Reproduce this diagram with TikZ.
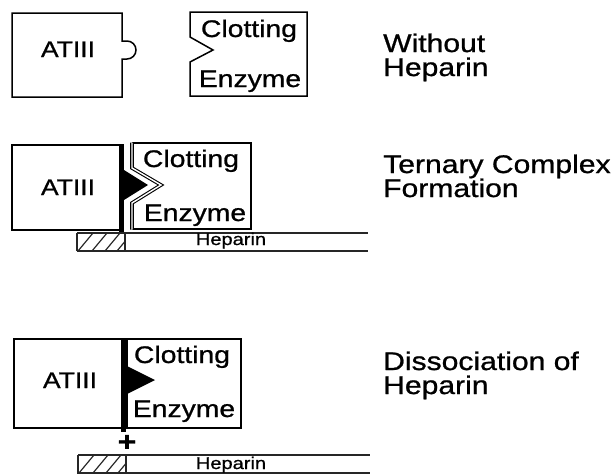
\documentclass[tikz,border=0pt]{standalone}
\usepackage{fontspec}
\setmainfont{Liberation Sans}[FakeStretch=1.18, FakeBold=0.9]

\begin{document}
\begin{tikzpicture}[x=1pt, y=1pt,
  outline/.style={line width=1.5pt},
  seam/.style={line width=1.1pt, double, double distance=1.4pt},
  bar/.style={line width=5pt},
  stripline/.style={line width=1.2pt, black!85},
  atname/.style={inner sep=0pt, anchor=base, font=\fontsize{22.5}{22.5}\selectfont},
  enzname/.style={inner sep=0pt, anchor=base, font=\fontsize{24}{24}\selectfont},
  hepname/.style={inner sep=0pt, anchor=base, font=\fontsize{17}{17}\selectfont},
  caption/.style={inner sep=0pt, anchor=base west, align=left, font=\fontsize{25.5}{24}\selectfont}]
\useasboundingbox (0,0) rectangle (616,-474);

\draw[outline] (12,-13) -- (122,-13) -- (122,-41) -- (127,-41) arc[start angle=90, end angle=-90, radius=9] -- (122,-59) -- (122,-97) -- (12,-97) -- cycle;
\draw[outline] (190,-12) -- (307,-12) -- (307,-96) -- (190,-96) -- (190,-62) -- (213,-50) -- (190,-37) -- cycle;
\node[atname] (at1) at (68,-57) {ATIII};
\node[enzname] (clot1) at (249,-37) {Clotting};
\node[enzname] (enz1) at (250,-87) {Enzyme};
\node[caption] (cap1) at (383,-76) {Without\\Heparin};

\draw[outline] (120,-145) -- (12,-145) -- (12,-230) -- (120,-230);
\draw[bar] (121.5,-144) -- (121.5,-232);
\fill (124,-170) -- (148,-185) -- (124,-200) -- cycle;
\draw[outline] (132,-143) -- (251,-143) -- (251,-229) -- (132,-229);
\draw[seam] (132,-142.5) -- (132,-168) -- (161,-185) -- (132,-203) -- (132,-229.5);
\node[atname] (at2) at (68,-195) {ATIII};
\node[enzname] (clot2) at (191,-167) {Clotting};
\node[enzname] (enz2) at (195,-221) {Enzyme};
\node[caption] (cap2) at (383,-197) {Ternary Complex\\Formation};

\draw[stripline] (77,-233) -- (368,-233);
\draw[stripline] (77,-251) -- (368,-251);
\draw[stripline] (77,-233) -- (77,-251);
\draw[stripline] (125,-233) -- (125,-251);
\begin{scope}
\clip (77,-233) rectangle (125,-251);
\foreach \h in {78,92,105,117}
  \draw[stripline] (\h,-251) -- ++(15,18);
\end{scope}
\node[hepname] (hep2) at (231,-245) {Heparin};

\draw[outline] (123,-339) -- (14,-339) -- (14,-428) -- (123,-428);
\draw[outline] (127,-339) -- (241,-339) -- (241,-428) -- (127,-428) -- cycle;
\draw[bar] (123,-338) -- (123,-432);
\fill (125,-365) -- (155,-380) -- (125,-395) -- cycle;
\node[atname] (at3) at (70,-388) {ATIII};
\node[enzname] (clot3) at (182,-363) {Clotting};
\node[enzname] (enz3) at (184,-417) {Enzyme};
\node[caption] (cap3) at (383,-394) {Dissociation of\\Heparin};
\node[inner sep=0pt, font=\fontsize{27}{27}\selectfont\bfseries] (plus) at (127,-443) {+};

\draw[stripline] (78,-455) -- (370,-455);
\draw[stripline] (78,-473) -- (370,-473);
\draw[stripline] (78,-455) -- (78,-474);
\draw[stripline] (126,-455) -- (126,-474);
\begin{scope}
\clip (78,-455) rectangle (126,-474);
\foreach \h in {79,93,106,118}
  \draw[stripline] (\h,-473) -- ++(15,18);
\end{scope}
\node[hepname] (hep3) at (231,-469) {Heparin};
\end{tikzpicture}
\end{document}
